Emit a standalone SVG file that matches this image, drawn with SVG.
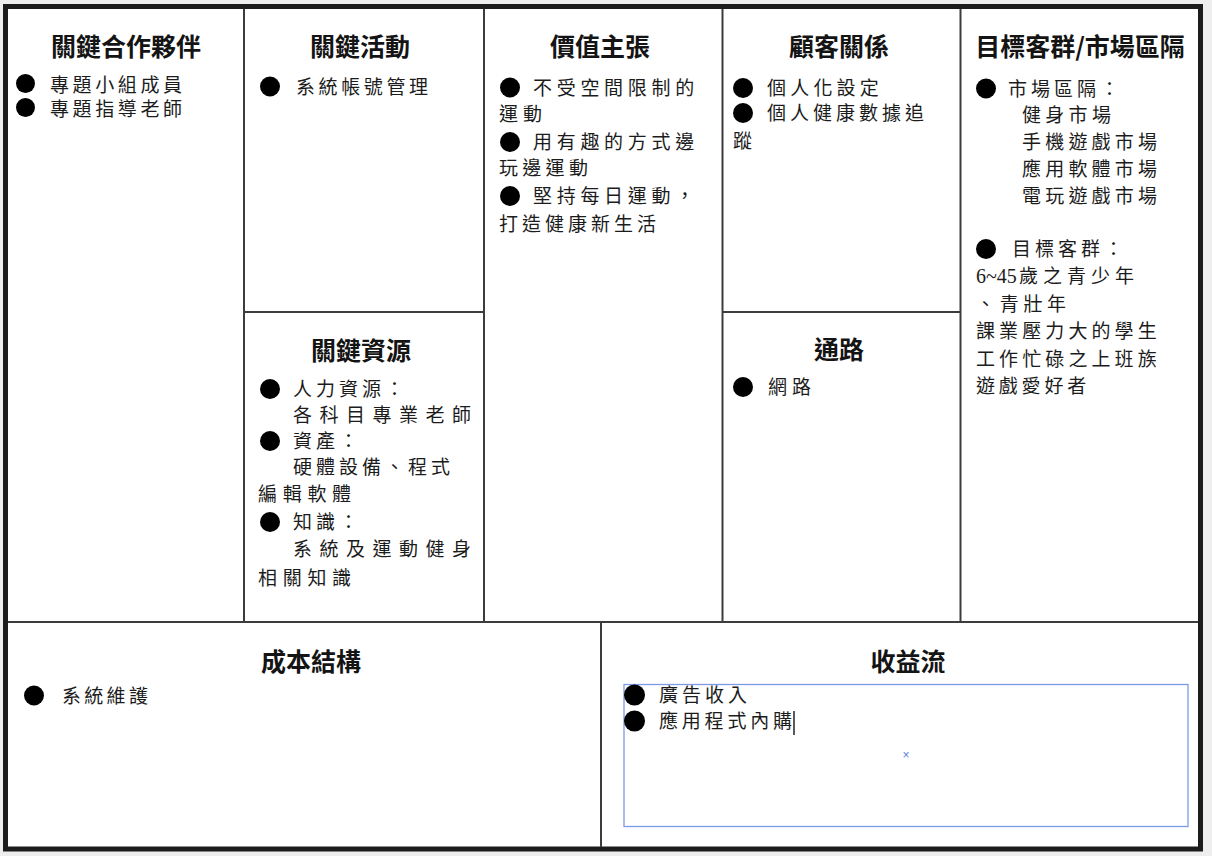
<svg xmlns="http://www.w3.org/2000/svg" width="1212" height="856" viewBox="0 0 1212 856">
  <style>
    .hd { font-family: "Noto Sans CJK TC", "Noto Sans CJK SC", sans-serif; font-weight: 700; font-size: 25px; text-anchor: middle; fill: #141414; }
    .tx { font-family: "Noto Sans CJK TC", "Noto Sans CJK SC", sans-serif; font-size: 19px; fill: #1c1c1c; letter-spacing: 4px; }
    .num { font-family: "Liberation Serif", serif; font-size: 20px; letter-spacing: 0; }
    .bul { fill: #000; }
    .grid line { stroke: #3c3c3c; stroke-width: 2; }
  </style>
  <defs>
    <clipPath id="boxClip">
      <rect x="624" y="684" width="564" height="143"/>
    </clipPath>
  </defs>

  <!-- page background and canvas frame -->
  <rect x="0" y="0" width="1212" height="856" fill="#eeeeee"/>
  <rect x="5.5" y="6.5" width="1195" height="842.5" fill="#ffffff" stroke="#1c1c1c" stroke-width="5"/>

  <!-- dividing lines of the canvas -->
  <g id="grid" class="grid">
    <line x1="244" y1="9" x2="244" y2="622"/>
    <line x1="484" y1="9" x2="484" y2="622"/>
    <line x1="722.5" y1="9" x2="722.5" y2="622"/>
    <line x1="960.5" y1="9" x2="960.5" y2="622"/>
    <line x1="244" y1="312" x2="484" y2="312"/>
    <line x1="722.5" y1="312" x2="960.5" y2="312"/>
    <line x1="8" y1="622" x2="1198" y2="622"/>
    <line x1="601" y1="622" x2="601" y2="847"/>
  </g>

  <g id="partners">
    <text class="hd" x="126" y="56">關鍵合作夥伴</text>
    <circle class="bul" cx="25.5" cy="83.5" r="9.5"/>
    <text class="tx" x="50" y="91.5" style="letter-spacing:3.6px">專題小組成員</text>
    <circle class="bul" cx="25.5" cy="107.5" r="9.5"/>
    <text class="tx" x="50" y="116" style="letter-spacing:3.6px">專題指導老師</text>
  </g>

  <g id="activities">
    <text class="hd" x="360" y="56">關鍵活動</text>
    <circle class="bul" cx="270" cy="86.5" r="10"/>
    <text class="tx" x="296" y="94" style="letter-spacing:3.6px">系統帳號管理</text>
  </g>

  <g id="resources">
    <text class="hd" x="361" y="360">關鍵資源</text>
    <circle class="bul" cx="270" cy="389" r="10"/>
    <text class="tx" x="293" y="396">人力資源：</text>
    <text class="tx" x="293" y="422" style="letter-spacing:7.5px">各科目專業老師</text>
    <circle class="bul" cx="270" cy="441" r="10"/>
    <text class="tx" x="293" y="448">資產：</text>
    <text class="tx" x="293" y="474">硬體設備、程式</text>
    <text class="tx" x="258" y="501" style="letter-spacing:5.7px">編輯軟體</text>
    <circle class="bul" cx="270" cy="522" r="10"/>
    <text class="tx" x="293" y="529">知識：</text>
    <text class="tx" x="293" y="556" style="letter-spacing:7.5px">系統及運動健身</text>
    <text class="tx" x="258" y="585" style="letter-spacing:5.7px">相關知識</text>
  </g>

  <g id="value">
    <text class="hd" x="600" y="56">價值主張</text>
    <circle class="bul" cx="510" cy="87.5" r="10"/>
    <text class="tx" x="533" y="94.5" style="letter-spacing:4.7px">不受空間限制的</text>
    <text class="tx" x="499" y="121" style="letter-spacing:5px">運動</text>
    <circle class="bul" cx="510" cy="142" r="10"/>
    <text class="tx" x="533" y="149" style="letter-spacing:4.7px">用有趣的方式邊</text>
    <text class="tx" x="499" y="175" style="letter-spacing:4.3px">玩邊運動</text>
    <circle class="bul" cx="510" cy="196" r="10"/>
    <text class="tx" x="533" y="203" style="letter-spacing:4.7px">堅持每日運動，</text>
    <text class="tx" x="499" y="230.5">打造健康新生活</text>
  </g>

  <g id="relationships">
    <text class="hd" x="839" y="56">顧客關係</text>
    <circle class="bul" cx="743" cy="88" r="10"/>
    <text class="tx" x="767" y="95" style="letter-spacing:4.2px">個人化設定</text>
    <circle class="bul" cx="743" cy="113" r="10"/>
    <text class="tx" x="767" y="120">個人健康數據追</text>
    <text class="tx" x="733" y="148">蹤</text>
  </g>

  <g id="channels">
    <text class="hd" x="839" y="359">通路</text>
    <circle class="bul" cx="743" cy="387" r="10"/>
    <text class="tx" x="768" y="394" style="letter-spacing:5px">網路</text>
  </g>

  <g id="segments">
    <text class="hd" x="1080" y="56">目標客群/市場區隔</text>
    <circle class="bul" cx="986" cy="88.5" r="10"/>
    <text class="tx" x="1008" y="95.5">市場區隔：</text>
    <text class="tx" x="1022" y="122" style="letter-spacing:4.3px">健身市場</text>
    <text class="tx" x="1022" y="149" style="letter-spacing:4.2px">手機遊戲市場</text>
    <text class="tx" x="1022" y="176" style="letter-spacing:4.2px">應用軟體市場</text>
    <text class="tx" x="1022" y="203" style="letter-spacing:4.2px">電玩遊戲市場</text>
    <circle class="bul" cx="986" cy="249" r="10"/>
    <text class="tx" x="1012" y="256">目標客群：</text>
    <text class="tx" x="976" y="283"><tspan class="num">6~45</tspan><tspan x="1019" style="letter-spacing:5px">歲之青少年</tspan></text>
    <text class="tx" x="976" y="311" style="letter-spacing:4.7px">、青壯年</text>
    <text class="tx" x="976" y="338" style="letter-spacing:4.1px">課業壓力大的學生</text>
    <text class="tx" x="976" y="366" style="letter-spacing:4.1px">工作忙碌之上班族</text>
    <text class="tx" x="976" y="393" style="letter-spacing:3.8px">遊戲愛好者</text>
  </g>

  <g id="cost">
    <text class="hd" x="311" y="671">成本結構</text>
    <circle class="bul" cx="34" cy="695.5" r="10"/>
    <text class="tx" x="62" y="702.5" style="letter-spacing:3.3px">系統維護</text>
  </g>

  <g id="revenue">
    <text class="hd" x="908" y="671">收益流</text>
    <!-- active text box with caret -->
    <rect x="624" y="684.5" width="564" height="142" fill="none" stroke="#7c9ae6" stroke-width="1.3"/>
    <g clip-path="url(#boxClip)">
      <circle class="bul" cx="634.5" cy="695" r="10.5"/>
      <circle class="bul" cx="634.5" cy="721" r="10.5"/>
    </g>
    <text class="tx" x="659" y="702">廣告收入</text>
    <text class="tx" x="659" y="728" style="letter-spacing:3.8px">應用程式內購</text>
    <line x1="794" y1="711" x2="794" y2="735" stroke="#222" stroke-width="1.5"/>
    <text x="906" y="759" font-family="Liberation Sans, sans-serif" font-size="12" fill="#5a7ee0" text-anchor="middle">×</text>
  </g>
</svg>
